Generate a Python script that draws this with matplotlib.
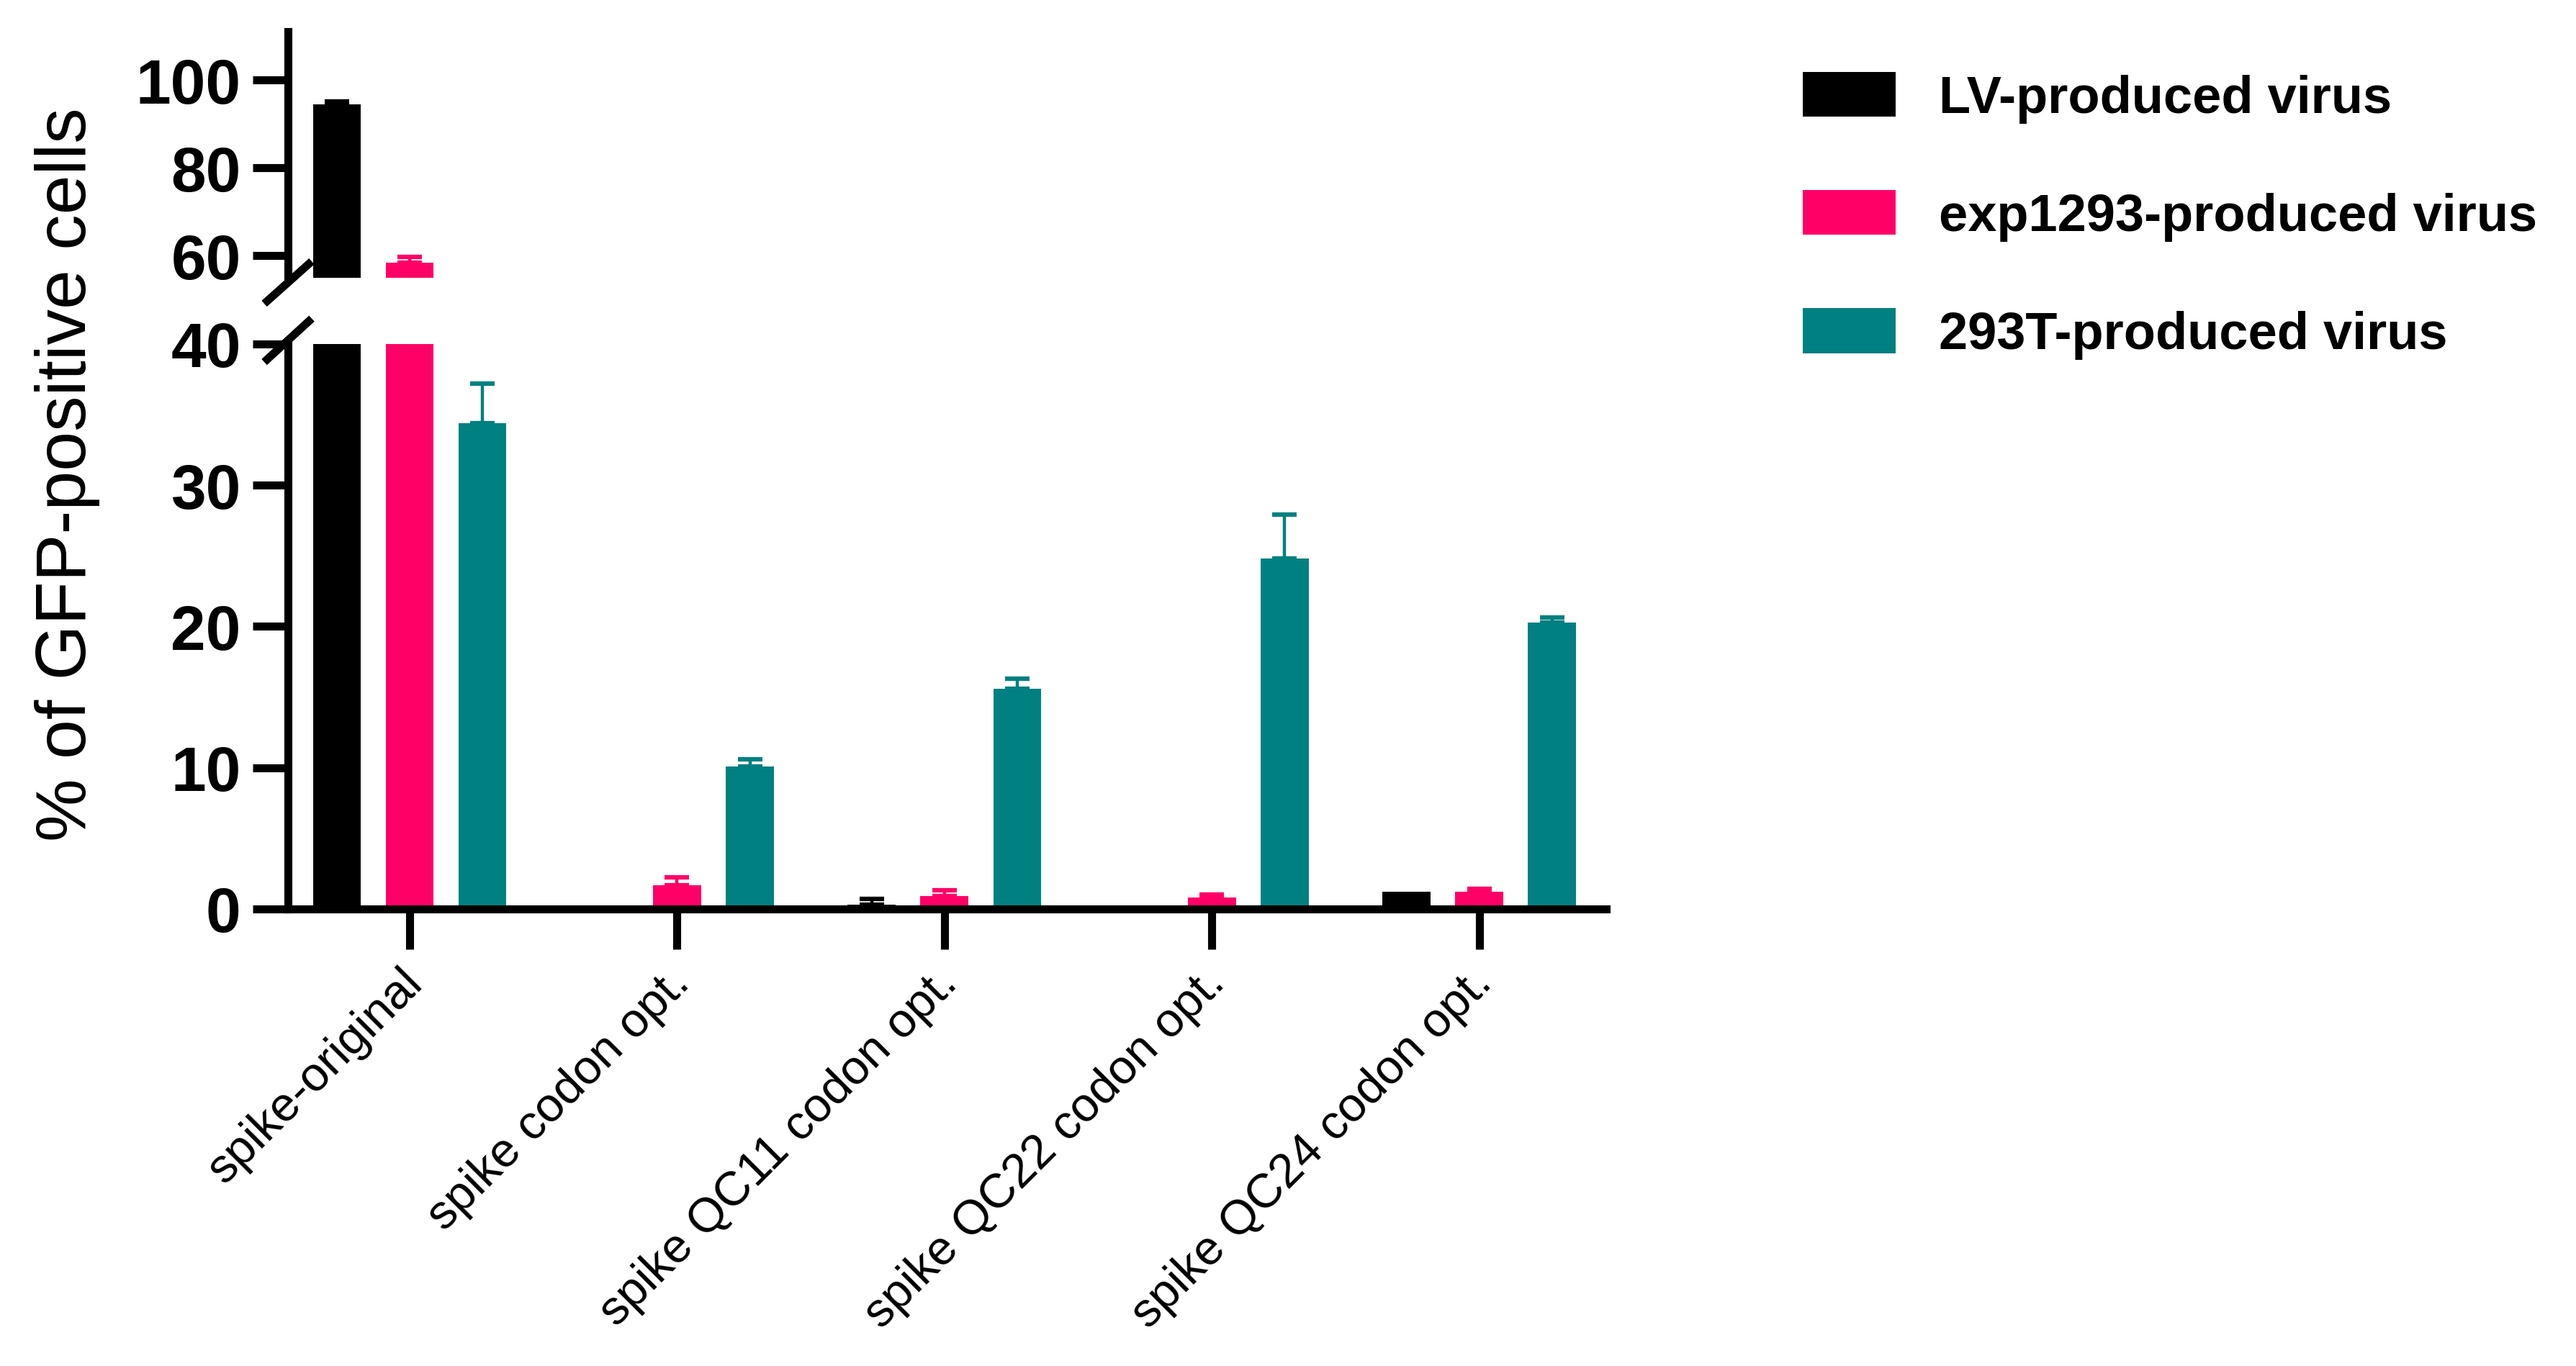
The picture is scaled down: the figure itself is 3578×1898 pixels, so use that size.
import numpy as np
import matplotlib
matplotlib.use("Agg")
import matplotlib.pyplot as plt
import matplotlib.transforms as mtransforms

plt.rcParams['font.family'] = ['Liberation Sans', 'DejaVu Sans']

# ---------------- data ----------------
categories = ["spike-original", "spike codon opt.", "spike QC11 codon opt.",
              "spike QC22 codon opt.", "spike QC24 codon opt."]
series_names = ["LV-produced virus", "exp1293-produced virus", "293T-produced virus"]
lv_vals = [94.5, 0.0, 0.3, 0.0, 1.2]
lv_err = [0.6, 0.0, 0.4, 0.0, 0.0]
exp_vals = [58.5, 1.7, 0.9, 0.8, 1.2]
exp_err = [1.3, 0.55, 0.4, 0.2, 0.2]
t293_vals = [34.4, 10.1, 15.6, 24.8, 20.3]
t293_err = [2.8, 0.5, 0.7, 3.1, 0.35]
colors = ["#000000", "#FF0066", "#008080"]

lower_ticks = [0, 10, 20, 30, 40]
upper_ticks = [60, 80, 100]

# ---------------- figure ----------------
fig = plt.figure(figsize=(35.78, 18.99), dpi=100)
ax_low = fig.add_axes([0.1118, 0.3344, 0.5117, 0.4134])
ax_up = fig.add_axes([0.1118, 0.7962, 0.5117, 0.1801])

pos = np.arange(len(categories))
width = 0.18
offsets = [-0.272, 0.0, 0.272]
all_vals = [lv_vals, exp_vals, t293_vals]
all_errs = [lv_err, exp_err, t293_err]

handles = []
for ax in (ax_low, ax_up):
    for k in range(3):
        vals = np.array(all_vals[k], dtype=float)
        errs = np.array(all_errs[k], dtype=float)
        x = pos + offsets[k]
        b = ax.bar(x, vals, width=width, color=colors[k], zorder=2,
                   label=series_names[k])
        if ax is ax_low:
            handles.append(b)
        m = errs > 0
        ax.errorbar(x[m], vals[m], yerr=[np.zeros(m.sum()), errs[m]],
                    fmt='none', ecolor=colors[k], elinewidth=3.2,
                    capsize=12, capthick=4.5, zorder=3)

spine_lw = 8
ax_low.set_ylim(0, 40)
ax_up.set_ylim(55, 111)
for ax in (ax_low, ax_up):
    ax.set_xlim(-0.455, 4.474)
    ax.spines['top'].set_visible(False)
    ax.spines['right'].set_visible(False)
    ax.spines['left'].set_linewidth(spine_lw)
    ax.spines['bottom'].set_linewidth(spine_lw)
    ax.patch.set_alpha(0)
    ax.tick_params(axis='y', direction='out', length=35, width=spine_lw,
                   labelsize=63, pad=12)

ax_up.spines['bottom'].set_visible(False)
ax_up.tick_params(axis='x', bottom=False, labelbottom=False)
ax_low.set_yticks(lower_ticks)
ax_up.set_yticks(upper_ticks)
for ax in (ax_low, ax_up):
    for lab in ax.get_yticklabels():
        lab.set_fontweight('bold')

ax_low.set_xticks(pos)
ax_low.set_xticklabels(categories, rotation=45, ha='right', va='top',
                       rotation_mode='anchor', fontsize=48)
ax_low.tick_params(axis='x', direction='out', length=40, width=spine_lw, pad=11)
shift = mtransforms.ScaledTranslation(-14 / 100, 0, fig.dpi_scale_trans)
for lab in ax_low.get_xticklabels():
    lab.set_transform(lab.get_transform() + shift)

# ---------------- axis break marks ----------------
kw = dict(color='k', lw=spine_lw, clip_on=False, solid_capstyle='butt', zorder=5)
ax_up.plot([-0.018, 0.018], [-0.105, 0.067], transform=ax_up.transAxes, **kw)
ax_low.plot([-0.018, 0.018], [0.968, 1.045], transform=ax_low.transAxes, **kw)

# ---------------- y label ----------------
fig.text(0.026, 0.653, "% of GFP-positive cells", rotation=90,
         ha='center', va='center', fontsize=71)

# ---------------- legend ----------------
fig.legend(handles, series_names, loc='upper left',
           bbox_to_anchor=(0.6998, 0.9468), frameon=False,
           prop={'size': 52, 'weight': 'bold'},
           handlelength=1.79, handleheight=0.95, handletextpad=0.83,
           labelspacing=1.29, borderaxespad=0, borderpad=0)

fig.savefig("out.png", dpi=100)
